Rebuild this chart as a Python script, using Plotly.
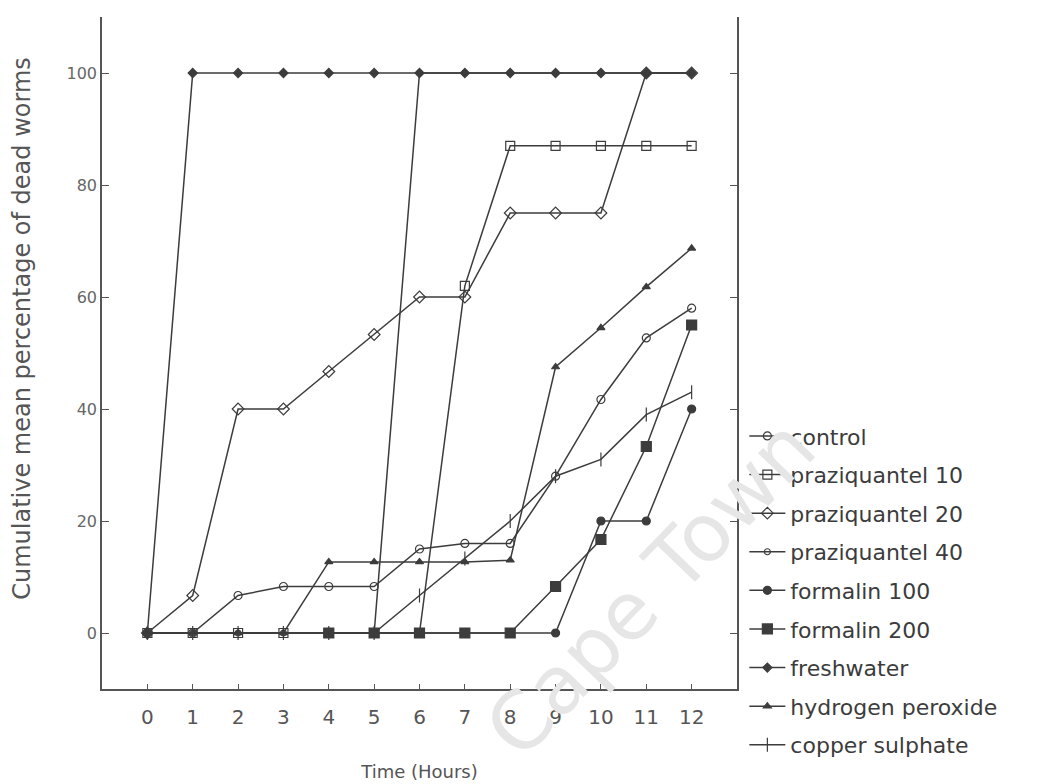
import plotly.graph_objects as go

hours = list(range(13))
control = [0, 0, 6.7, 8.3, 8.3, 8.3, 15, 16, 16, 28, 41.7, 52.7, 58]
praziquantel_10 = [0, 0, 0, 0, 0, 0, 0, 62, 87, 87, 87, 87, 87]
praziquantel_20 = [0, 6.7, 40, 40, 46.7, 53.3, 60, 60, 75, 75, 75, 100, 100]
praziquantel_40 = [0, 0, 0, 0, 0, 0, 100, 100, 100, 100, 100, 100, 100]
formalin_100 = [None, None, None, None, 0, 0, 0, 0, 0, 0, 20, 20, 40]
formalin_200 = [None, None, None, None, 0, 0, 0, 0, 0, 8.3, 16.7, 33.3, 55]
freshwater = [0, 100, 100, 100, 100, 100, 100, 100, 100, 100, 100, 100, 100]
hydrogen_peroxide = [0, 0, 0, 0, 12.7, 12.7, 12.7, 12.7, 13, 47.5, 54.5, 61.8, 68.7]
copper_sulphate = [0, 0, 0, 0, 0, 0, 6.7, 13.3, 20, 28, 31, 39, 43]

y_ticks = [0, 20, 40, 60, 80, 100]
x_ticks = hours

LINE = "#3c3c3c"
series = [
    ("control", control, dict(symbol="circle-open", size=8)),
    ("praziquantel 10", praziquantel_10, dict(symbol="square-open", size=9)),
    ("praziquantel 20", praziquantel_20, dict(symbol="diamond-open", size=9)),
    ("praziquantel 40", praziquantel_40, dict(symbol="circle-open", size=6)),
    ("formalin 100", formalin_100, dict(symbol="circle", size=8)),
    ("formalin 200", formalin_200, dict(symbol="square", size=10)),
    ("freshwater", freshwater, dict(symbol="diamond", size=7)),
    ("hydrogen peroxide", hydrogen_peroxide, dict(symbol="triangle-up", size=7)),
    ("copper sulphate", copper_sulphate, dict(symbol="line-ns-open", size=10)),
]

fig = go.Figure()
for i, (name, vals, mk) in enumerate(series):
    marker = dict(color=LINE, line=dict(color=LINE, width=1.2), **mk)
    fig.add_trace(go.Scatter(
        x=hours, y=vals, name=name, mode="lines+markers",
        line=dict(color=LINE, width=1.5),
        marker=marker, legendgroup=f"g{i}",
    ))

fig.add_annotation(
    x=0.863, y=0.15, xref="paper", yref="paper", text="Cape Town",
    xanchor="center", yanchor="middle",
    showarrow=False, textangle=-46,
    font=dict(family="DejaVu Sans", size=80, color="#e6e6e6"),
)

fig.add_annotation(
    x=-0.125, y=0.537, xref="paper", yref="paper",
    text="Cumulative mean percentage of dead worms",
    xanchor="center", yanchor="middle", showarrow=False, textangle=-90,
    font=dict(family="DejaVu Sans", size=24, color="#555"),
)

fig.update_layout(
    width=1057, height=784,
    margin=dict(l=94, r=328, t=9, b=103, autoexpand=False),
    paper_bgcolor="white", plot_bgcolor="white",
    font=dict(family="DejaVu Sans", color="#444"),
    showlegend=True,
    legend=dict(
        x=1.0116, y=0.4075, xanchor="left", yanchor="top",
        font=dict(size=22, color="#3c3c3c", family="DejaVu Sans"),
        traceorder="grouped", tracegroupgap=7,
        bgcolor="rgba(0,0,0,0)", itemwidth=36,
    ),
    xaxis=dict(
        range=[-1, 13], tickvals=x_ticks, ticktext=[str(v) for v in x_ticks],
        showgrid=False, zeroline=False, showline=True, linecolor="#555", linewidth=1.5,
        ticks="inside", ticklen=5, tickcolor="#555", mirror=False, automargin=False,
        tickfont=dict(size=20, color="#555"), ticklabelstandoff=9,
        title=dict(text="Time (Hours)", font=dict(size=18, color="#555"), standoff=38),
    ),
    yaxis=dict(
        range=[-10, 110], tickvals=y_ticks, ticktext=[str(v) for v in y_ticks],
        showgrid=False, zeroline=False, showline=True, linecolor="#555", linewidth=1.5,
        ticks="inside", ticklen=7, tickcolor="#555", mirror="ticks", automargin=False,
        tickfont=dict(size=16, color="#666"),
    ),
)

fig.write_html("out.html")
